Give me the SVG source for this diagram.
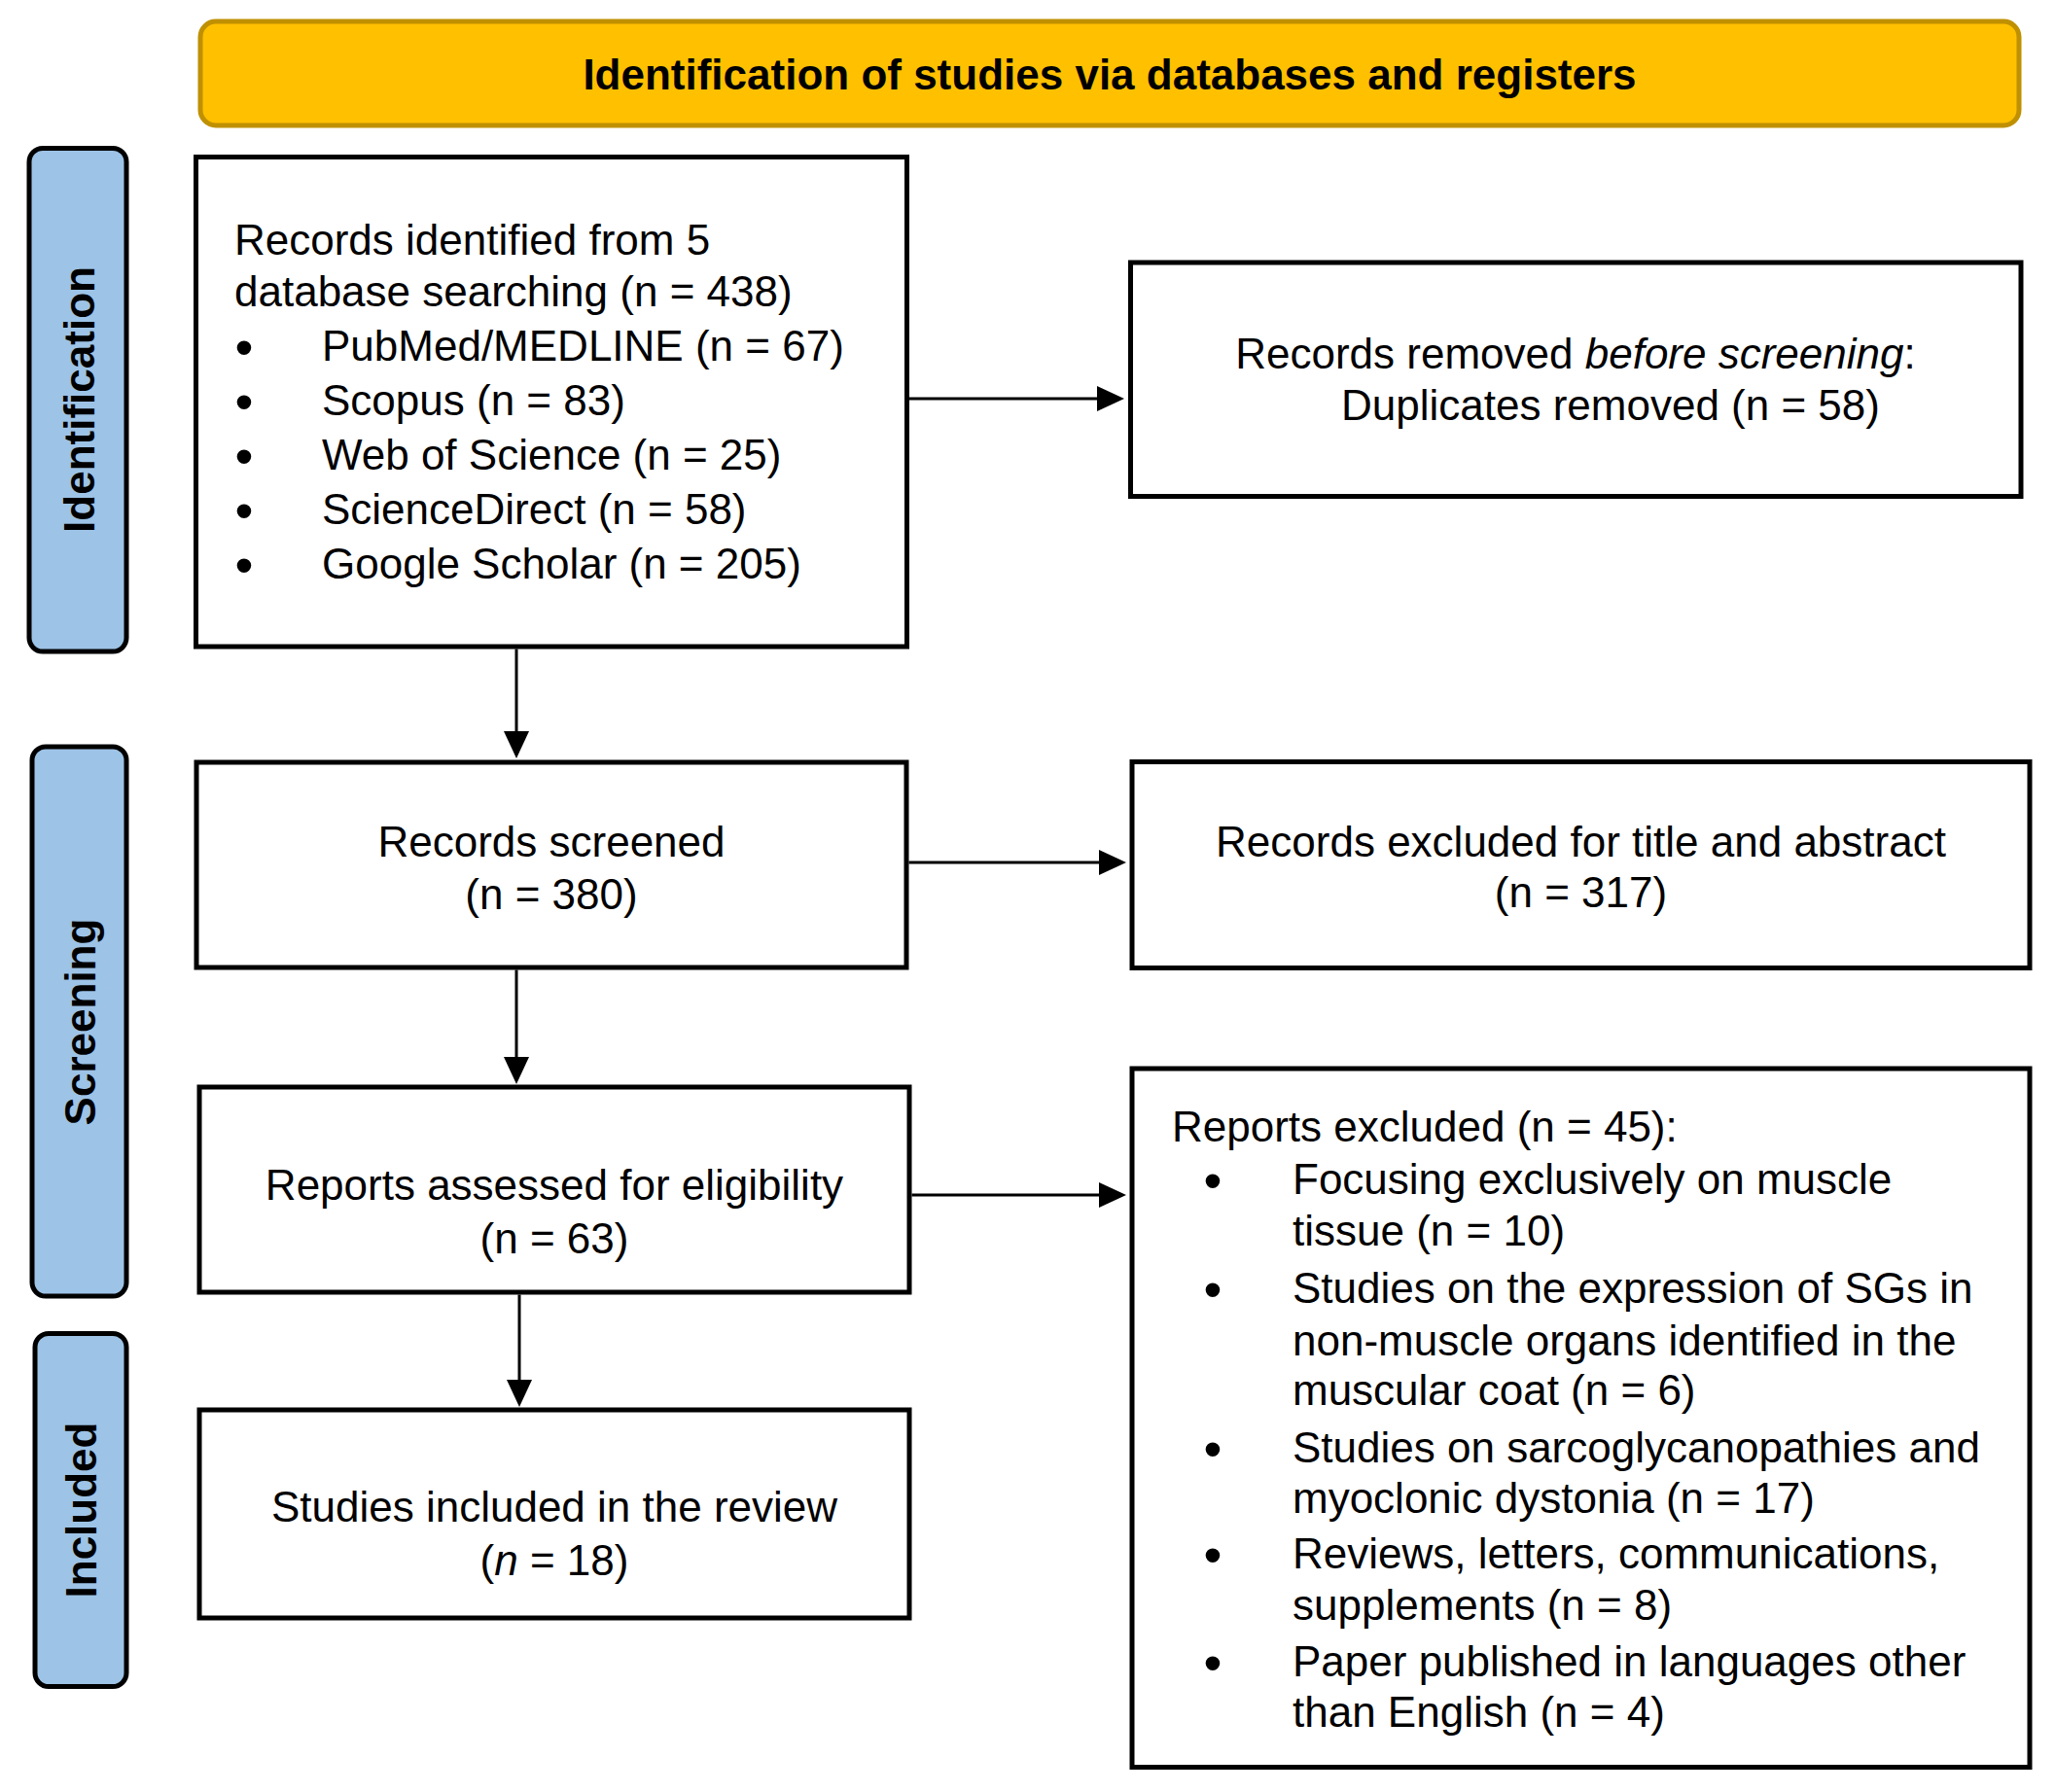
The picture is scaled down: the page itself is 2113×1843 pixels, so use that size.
<svg xmlns="http://www.w3.org/2000/svg" width="2113" height="1843" viewBox="0 0 2113 1843">
<style>
text{font-family:"Liberation Sans",Arial,sans-serif;font-size:44px;fill:#000}
.box{fill:#fff;stroke:#000;stroke-width:5}
.lane{fill:#9DC3E6;stroke:#000;stroke-width:5}
.lanet{font-weight:bold;text-anchor:middle}
.banner{fill:#FFC000;stroke:#BF9000;stroke-width:5}
.c{text-anchor:middle}
.bul{font-size:54px;text-anchor:middle}
.conn{stroke:#000;stroke-width:3;fill:none;marker-end:url(#ah)}
</style>
<defs>
<marker id="ah" markerUnits="userSpaceOnUse" markerWidth="28" markerHeight="26" viewBox="0 0 28 26" refX="24" refY="13" orient="auto">
<path d="M0,0 L28,13 L0,26 Z" fill="#000"/>
</marker>
</defs>
<rect width="2113" height="1843" fill="#fff"/>

<g id="banner">
<rect class="banner" x="206" y="22" width="1870" height="107" rx="16"/>
<text x="1141" y="92" class="c" font-weight="bold">Identification of studies via databases and registers</text>
</g>

<g id="lane-identification">
<rect class="lane" x="30" y="152.5" width="100" height="517.5" rx="14"/>
<text class="lanet" transform="translate(97,411) rotate(-90)">Identification</text>
</g>
<g id="lane-screening">
<rect class="lane" x="33" y="768" width="97" height="565" rx="14"/>
<text class="lanet" transform="translate(98,1051) rotate(-90)">Screening</text>
</g>
<g id="lane-included">
<rect class="lane" x="36" y="1371.5" width="94" height="363" rx="14"/>
<text class="lanet" transform="translate(99,1553) rotate(-90)">Included</text>
</g>

<g id="records-identified">
<rect class="box" x="201.5" y="161.5" width="731" height="503.5"/>
<text x="241" y="262">Records identified from 5</text>
<text x="241" y="315">database searching (n = 438)</text>
<text class="bul" x="251" y="376">•</text><text x="331" y="371">PubMed/MEDLINE (n = 67)</text>
<text class="bul" x="251" y="432">•</text><text x="331" y="427">Scopus (n = 83)</text>
<text class="bul" x="251" y="488">•</text><text x="331" y="483">Web of Science (n = 25)</text>
<text class="bul" x="251" y="544">•</text><text x="331" y="539">ScienceDirect (n = 58)</text>
<text class="bul" x="251" y="600">•</text><text x="331" y="595">Google Scholar (n = 205)</text>
</g>

<g id="records-removed">
<rect class="box" x="1162.5" y="270" width="915.5" height="240.5"/>
<text x="1620" y="379" class="c">Records removed <tspan font-style="italic">before screening</tspan>:</text>
<text x="1379" y="432">Duplicates removed (n = 58)</text>
</g>

<g id="records-screened">
<rect class="box" x="202" y="784" width="730" height="211"/>
<text x="567" y="881" class="c">Records screened</text>
<text x="567" y="935" class="c">(n = 380)</text>
</g>

<g id="records-excluded">
<rect class="box" x="1164" y="783.5" width="923" height="212"/>
<text x="1625.5" y="881" class="c">Records excluded for title and abstract</text>
<text x="1625.5" y="933" class="c">(n = 317)</text>
</g>

<g id="reports-assessed">
<rect class="box" x="205" y="1118" width="730" height="211"/>
<text x="570" y="1234" class="c">Reports assessed for eligibility</text>
<text x="570" y="1289" class="c">(n = 63)</text>
</g>

<g id="reports-excluded">
<rect class="box" x="1164" y="1099" width="923" height="718.5"/>
<text x="1205" y="1174">Reports excluded (n = 45):</text>
<text class="bul" x="1247" y="1233">•</text><text x="1329" y="1228">Focusing exclusively on muscle</text>
<text x="1329" y="1281">tissue (n = 10)</text>
<text class="bul" x="1247" y="1345">•</text><text x="1329" y="1340">Studies on the expression of SGs in</text>
<text x="1329" y="1394">non-muscle organs identified in the</text>
<text x="1329" y="1445">muscular coat (n = 6)</text>
<text class="bul" x="1247" y="1509">•</text><text x="1329" y="1504">Studies on sarcoglycanopathies and</text>
<text x="1329" y="1556">myoclonic dystonia (n = 17)</text>
<text class="bul" x="1247" y="1618">•</text><text x="1329" y="1613">Reviews, letters, communications,</text>
<text x="1329" y="1666">supplements (n = 8)</text>
<text class="bul" x="1247" y="1729">•</text><text x="1329" y="1724">Paper published in languages other</text>
<text x="1329" y="1776">than English (n = 4)</text>
</g>

<g id="studies-included">
<rect class="box" x="205" y="1450" width="730" height="214"/>
<text x="570" y="1565" class="c">Studies included in the review</text>
<text x="570" y="1620" class="c">(<tspan font-style="italic">n</tspan> = 18)</text>
</g>

<g id="connectors">
<path class="conn" d="M935,410 H1152"/>
<path class="conn" d="M934.5,887 H1154"/>
<path class="conn" d="M937.5,1229 H1154"/>
<path class="conn" d="M531,667.5 V776"/>
<path class="conn" d="M531,997.5 V1111"/>
<path class="conn" d="M534,1331.5 V1443"/>
</g>
</svg>
